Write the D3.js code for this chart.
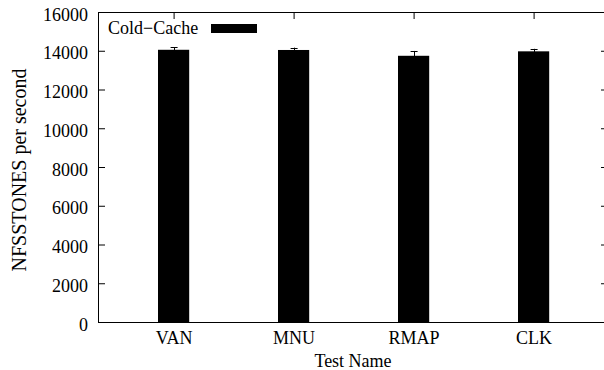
<!DOCTYPE html>
<html>
<head>
<meta charset="utf-8">
<script src="https://cdn.jsdelivr.net/npm/d3@7"></script>
<style>
  body { margin: 0; background: #fff; }
  svg text { font-family: "Liberation Serif", "Times New Roman", serif; font-size: 18px; fill: #000; }
</style>
</head>
<body>
<div id="chart"></div>
<script>
// Data
const tests = ["VAN", "MNU", "RMAP", "CLK"];
const coldCache = [14050, 14040, 13740, 13970];
const coldErr = [140, 120, 250, 130];
const yTicks = [0, 2000, 4000, 6000, 8000, 10000, 12000, 14000, 16000];

// Dimensions (plot frame in pixels)
const width = 604, height = 370;
const plotLeft = 98, plotRight = 608, plotTop = 12, plotBottom = 322;
const serif = "'Liberation Serif', 'Times New Roman', serif";

var svg = d3.select("#chart")
  .append("svg")
  .attr("width", width)
  .attr("height", height);

// Scales
var xScale = d3.scaleLinear()
  .domain([-0.63, 3.62])
  .range([plotLeft, plotRight]);

var yScale = d3.scaleLinear()
  .domain([0, 16000])
  .range([plotBottom, plotTop]);

const barW = xScale(0.26) - xScale(0);

// Left axis
var gl = svg.append("g")
  .attr("transform", "translate(" + plotLeft + ",0)")
  .call(d3.axisLeft(yScale).tickValues(yTicks).tickFormat(d3.format("d"))
    .tickSize(-7).tickSizeOuter(0).tickPadding(10));
gl.attr("font-size", 18).attr("font-family", serif);
gl.selectAll("text").attr("dy", "0.45em");

// Right axis ticks
svg.append("g")
  .attr("transform", "translate(" + plotRight + ",0)")
  .call(d3.axisRight(yScale).tickValues(yTicks).tickSize(-7).tickSizeOuter(0).tickFormat(""));

// Top axis ticks
svg.append("g")
  .attr("transform", "translate(0," + plotTop + ")")
  .call(d3.axisTop(xScale).tickValues(d3.range(tests.length)).tickSize(-7).tickSizeOuter(0).tickFormat(""));

// Bottom axis labels
var gb = svg.append("g")
  .attr("transform", "translate(0," + plotBottom + ")")
  .call(d3.axisBottom(xScale).tickValues(d3.range(tests.length)).tickSize(0).tickPadding(9)
    .tickFormat(function(i) { return tests[i]; }));
gb.attr("font-size", 18).attr("font-family", serif);

svg.selectAll(".domain").remove();
svg.selectAll(".tick line").attr("stroke", "#000");

// Bars
svg.selectAll("rect.bar")
  .data(coldCache)
  .enter()
  .append("rect")
    .attr("class", "bar")
    .attr("x", function(d, i) { return xScale(i) - barW / 2; })
    .attr("y", function(d) { return yScale(d); })
    .attr("width", barW)
    .attr("height", function(d) { return yScale(0) - yScale(d); })
    .attr("fill", "#000");

// Error bars
var eb = svg.selectAll("g.err")
  .data(coldCache)
  .enter()
  .append("g")
  .attr("class", "err")
  .attr("stroke", "#000")
  .attr("stroke-width", 1);

eb.append("line")
  .attr("x1", function(d, i) { return Math.round(xScale(i)) + 0.5; })
  .attr("x2", function(d, i) { return Math.round(xScale(i)) + 0.5; })
  .attr("y1", function(d, i) { return yScale(d - coldErr[i]); })
  .attr("y2", function(d, i) { return yScale(d + coldErr[i]); });

eb.append("line")
  .attr("x1", function(d, i) { return xScale(i) - 3; })
  .attr("x2", function(d, i) { return xScale(i) + 4; })
  .attr("y1", function(d, i) { return Math.round(yScale(d + coldErr[i])) + 0.5; })
  .attr("y2", function(d, i) { return Math.round(yScale(d + coldErr[i])) + 0.5; });

// Frame
svg.append("rect")
  .attr("x", plotLeft + 0.5)
  .attr("y", plotTop + 0.5)
  .attr("width", plotRight - plotLeft)
  .attr("height", plotBottom - plotTop)
  .attr("fill", "none")
  .attr("stroke", "#000")
  .attr("stroke-width", 1);

// Legend
svg.append("text")
  .attr("x", 108)
  .attr("y", 34)
  .text("Cold\u2212Cache");

svg.append("rect")
  .attr("x", 211)
  .attr("y", 24)
  .attr("width", 46)
  .attr("height", 9)
  .attr("fill", "#000");

// Axis titles
svg.append("text")
  .attr("x", 353)
  .attr("y", 367)
  .style("text-anchor", "middle")
  .text("Test Name");

svg.append("text")
  .attr("transform", "translate(26,170) rotate(-90)")
  .style("text-anchor", "middle")
  .style("font-size", "20px")
  .text("NFSSTONES per second");
</script>
</body>
</html>
